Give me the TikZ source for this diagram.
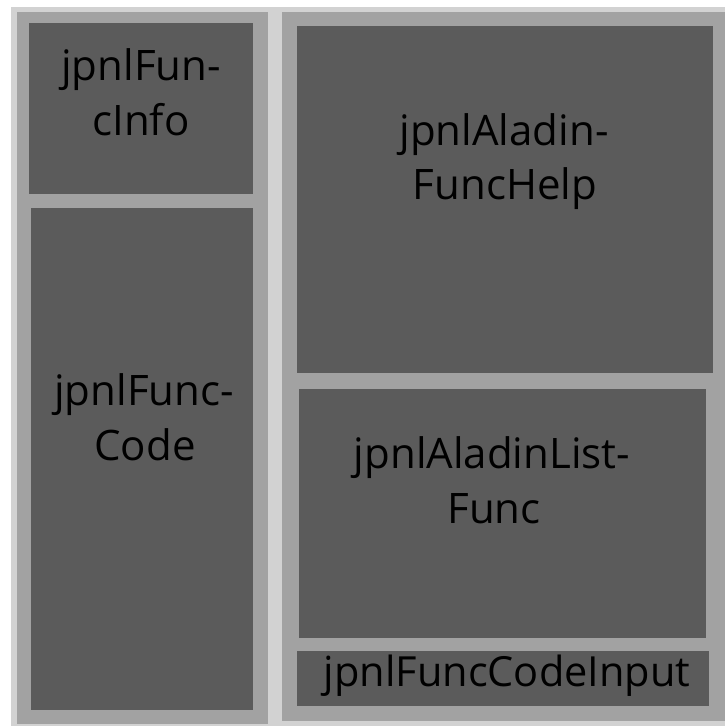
\documentclass[tikz,border=0pt]{standalone}
\usepackage{fontspec}
\setmainfont{Open Sans}
\definecolor{outerbg}{HTML}{D2D2D2}
\definecolor{panelgray}{HTML}{A2A2A2}
\definecolor{boxgray}{HTML}{5B5B5B}
\begin{document}
\begin{tikzpicture}[x=1pt,y=-1pt,
  area/.style={inner sep=0pt,outer sep=0pt,anchor=north west,draw=none},
  lbl/.style={anchor=base,inner sep=0pt,text=black,font=\fontsize{42}{48}\selectfont}]
\useasboundingbox (0,0) rectangle (725,726);
\fill[white] (0,0) rectangle (725,726);
\node[area,fill=outerbg,minimum width=714pt,minimum height=719pt] (outer) at (11,7) {};
\node[area,fill=panelgray,minimum width=251pt,minimum height=712pt] (leftpanel) at (17,12) {};
\node[area,fill=panelgray,minimum width=443pt,minimum height=709pt] (rightpanel) at (282,12) {};
\node[area,fill=boxgray,minimum width=224pt,minimum height=171pt] (info) at (29,23) {};
\node[area,fill=boxgray,minimum width=222pt,minimum height=502pt] (code) at (31,208) {};
\node[area,fill=boxgray,minimum width=416pt,minimum height=347pt] (help) at (297,26) {};
\node[area,fill=boxgray,minimum width=407pt,minimum height=249pt] (list) at (299,389) {};
\node[area,fill=boxgray,minimum width=412pt,minimum height=55pt] (input) at (297,651) {};
\node[lbl] (infoA) at (141,80) {jpnlFun-};
\node[lbl] (infoB) at (141,135) {cInfo};
\node[lbl] (codeA) at (144,405) {jpnlFunc-};
\node[lbl] (codeB) at (145,460) {Code};
\node[lbl] (helpA) at (504,145) {jpnlAladin-};
\node[lbl] (helpB) at (505,199) {FuncHelp};
\node[lbl] (listA) at (492,468) {jpnlAladinList-};
\node[lbl] (listB) at (494,523) {Func};
\node[lbl,font=\fontsize{41.5}{47}\selectfont] (inputA) at (507,686) {jpnlFuncCodeInput};
\end{tikzpicture}
\end{document}
